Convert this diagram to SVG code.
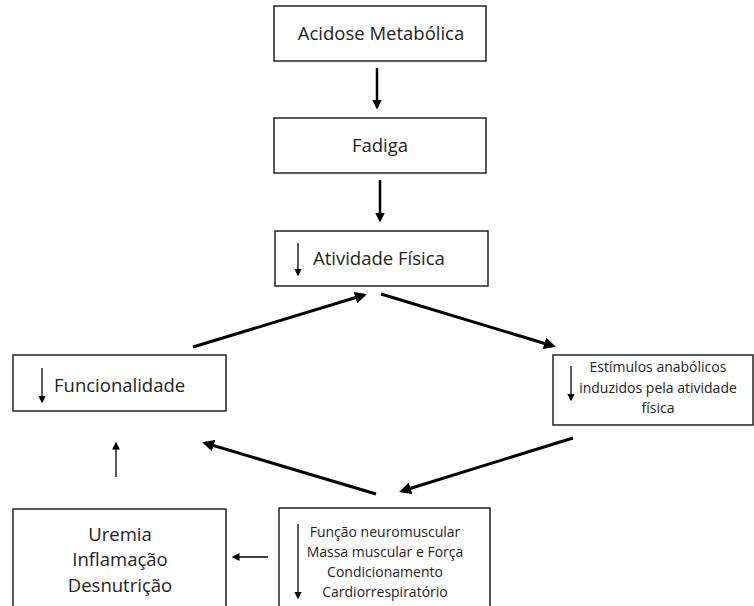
<svg xmlns="http://www.w3.org/2000/svg" width="754" height="606" viewBox="0 0 754 606">
<defs>
<marker id="ah" markerWidth="4" markerHeight="4" refX="3" refY="2" orient="auto" markerUnits="strokeWidth"><path d="M0,0 L4,2 L0,4 z" fill="#000"/></marker>
<marker id="ahs" markerWidth="6" markerHeight="6" refX="5" refY="3" orient="auto" markerUnits="strokeWidth"><path d="M0,0 L6,3 L0,6 z" fill="#000"/></marker>
<style>
.box{fill:#fff;stroke:#222;stroke-width:1.5}
.t{font-family:"Open Sans","Liberation Sans",sans-serif;fill:#222}
.big{font-size:18.5px}
.sm{font-size:14px}
.thick{stroke:#000;stroke-width:3;fill:none;marker-end:url(#ah)}
.vt{stroke:#000;stroke-width:2.5;fill:none;marker-end:url(#ah)}
.thin{stroke:#000;stroke-width:1.3;fill:none;marker-end:url(#ahs)}
</style>
</defs>
<rect width="754" height="606" fill="#fff"/>
<g id="acidose">
<rect class="box" x="274" y="6" width="212" height="55"/>
<text class="t big" x="381" y="40" text-anchor="middle">Acidose Metabólica</text>
</g>
<g id="fadiga">
<rect class="box" x="274" y="118" width="212" height="55"/>
<text class="t big" x="380" y="152" text-anchor="middle">Fadiga</text>
</g>
<g id="atividade">
<rect class="box" x="275" y="231" width="213" height="55"/>
<line class="thin" x1="298" y1="243" x2="298" y2="275"/>
<text class="t big" x="313" y="265">Atividade Física</text>
</g>
<g id="funcionalidade">
<rect class="box" x="13" y="355" width="213" height="56"/>
<line class="thin" x1="42" y1="368" x2="42" y2="402"/>
<text class="t big" x="54" y="392">Funcionalidade</text>
</g>
<g id="estimulos">
<rect class="box" x="553" y="355" width="200" height="70"/>
<line class="thin" x1="571" y1="366" x2="571" y2="400"/>
<text class="t sm" x="658" y="372" text-anchor="middle">Estímulos anabólicos</text>
<text class="t sm" x="658" y="393" text-anchor="middle">induzidos pela atividade</text>
<text class="t sm" x="658" y="413" text-anchor="middle">física</text>
</g>
<g id="uremia">
<rect class="box" x="13" y="509" width="213" height="110"/>
<text class="t big" x="120" y="541" text-anchor="middle">Uremia</text>
<text class="t big" x="120" y="566" text-anchor="middle">Inflamação</text>
<text class="t big" x="120" y="592" text-anchor="middle">Desnutrição</text>
</g>
<g id="funcao">
<rect class="box" x="279" y="508" width="211" height="110"/>
<line class="thin" x1="298" y1="524" x2="298" y2="598"/>
<text class="t sm" x="385" y="537" text-anchor="middle">Função neuromuscular</text>
<text class="t sm" x="385" y="557" text-anchor="middle">Massa muscular e Força</text>
<text class="t sm" x="385" y="577" text-anchor="middle">Condicionamento</text>
<text class="t sm" x="385" y="597" text-anchor="middle">Cardiorrespiratório</text>
</g>
<g id="connectors">
<line class="vt" x1="377" y1="68" x2="377" y2="107"/>
<line class="vt" x1="380" y1="180" x2="380" y2="220"/>
<line class="thick" x1="193" y1="347" x2="364" y2="295"/>
<line class="thick" x1="381" y1="294" x2="553" y2="346"/>
<line class="thick" x1="573" y1="438" x2="402" y2="491"/>
<line class="thick" x1="376" y1="494" x2="205" y2="443"/>
<line class="thin" x1="116" y1="477" x2="116" y2="443"/>
<line class="thin" x1="268" y1="557" x2="233" y2="557"/>
</g>
</svg>
